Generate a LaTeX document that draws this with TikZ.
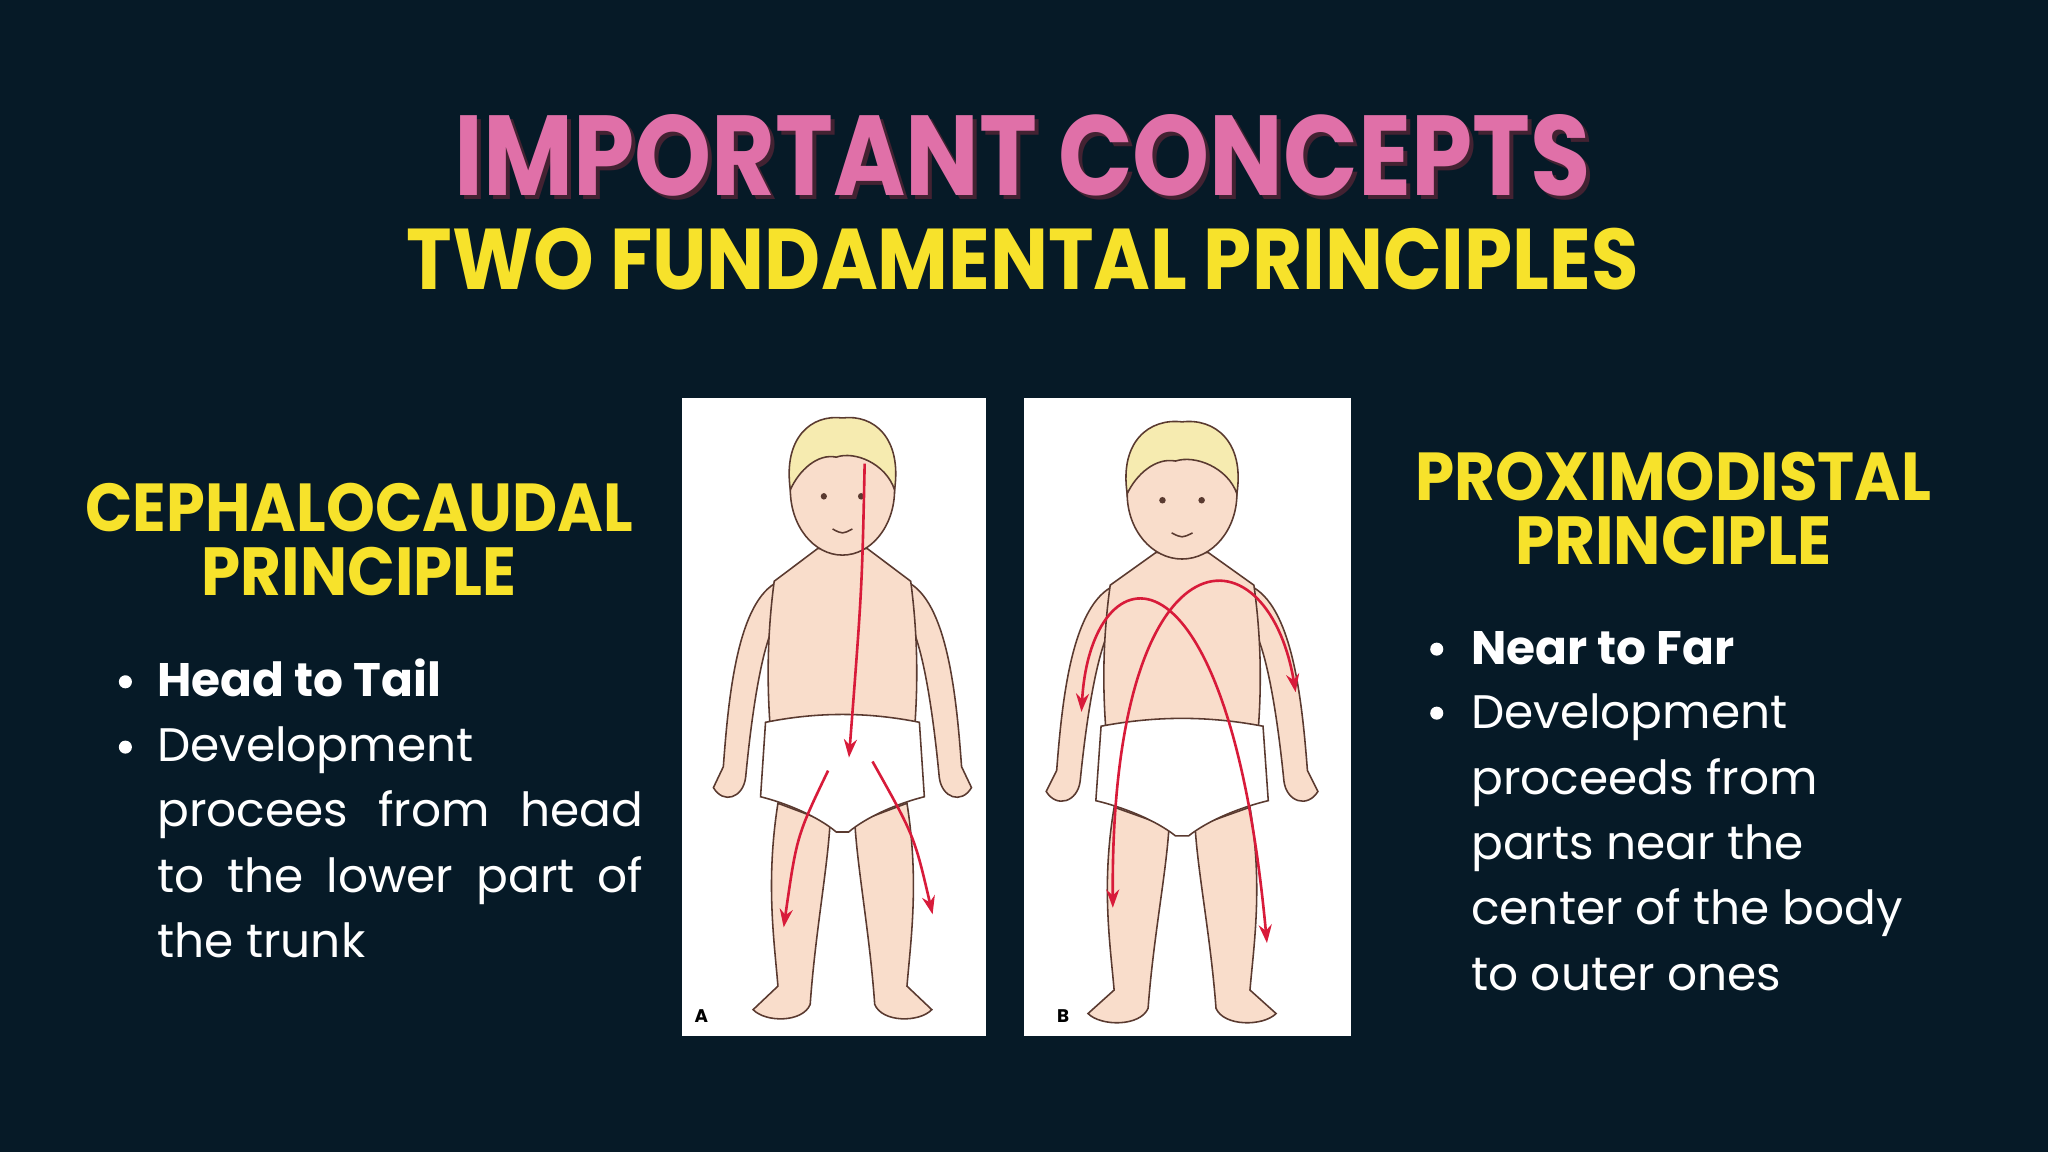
\documentclass[tikz,border=0pt]{standalone}
\usepackage{fontspec}
\setmainfont{Poppins}
\usetikzlibrary{arrows.meta}
\definecolor{bg}{HTML}{061A27}
\definecolor{pinkt}{HTML}{E070A8}
\definecolor{yel}{HTML}{F7E22B}
\definecolor{skin}{HTML}{F9DDCB}
\definecolor{hair}{HTML}{F6EBB0}
\definecolor{ink}{HTML}{5A3A30}
\definecolor{redar}{HTML}{D81B3A}
\tikzset{
 body/.style={font=\fontsize{18}{25}\selectfont, text=white, inner sep=0pt, anchor=base west},
 bul/.style={circle, fill=white, inner sep=0pt, minimum size=5pt},
 outl/.style={draw=ink, line width=0.6pt, fill=skin},
 rarrow/.style={draw=redar, line width=1pt, -{Stealth[length=7pt,width=5pt]}},
 rarrow2/.style={draw=redar, line width=1pt, {Stealth[length=7pt,width=5pt]}-{Stealth[length=7pt,width=5pt]}}
}
\newcommand{\drawbaby}{%
 % legs
 \draw[outl] (-52,240) .. controls (-62,300) and (-55,345) .. (-52,380) -- (-72,398) .. controls (-62,408) and (-32,408) .. (-26,394) .. controls (-22,340) and (-12,290) .. (-10,255) -- cycle;
 \draw[outl] (52,240) .. controls (62,300) and (55,345) .. (52,380) -- (72,398) .. controls (62,408) and (32,408) .. (26,394) .. controls (22,340) and (12,290) .. (10,255) -- cycle;
 % arms
 \draw[outl] (-55,72) .. controls (-85,90) and (-92,160) .. (-96,212) -- (-104,228) .. controls (-96,241) and (-80,236) .. (-78,220) .. controls (-73,170) and (-66,130) .. (-58,110) -- cycle;
 \draw[outl] (55,72) .. controls (85,90) and (92,160) .. (96,212) -- (104,228) .. controls (96,241) and (80,236) .. (78,220) .. controls (73,170) and (66,130) .. (58,110) -- cycle;
 % torso
 \draw[outl] (-20,45) -- (-55,70) .. controls (-62,120) and (-60,160) .. (-58,185) -- (58,185) .. controls (60,160) and (62,120) .. (55,70) -- (20,45) -- cycle;
 % diaper
 \draw[draw=ink, line width=0.6pt, fill=white] (-62,178) .. controls (-20,170) and (20,170) .. (62,178) -- (66,235) .. controls (45,240) and (20,250) .. (5,262) -- (-5,262) .. controls (-20,250) and (-45,240) .. (-66,235) -- cycle;
 % head
 \draw[outl] (0,0) ellipse [x radius=42, y radius=50];
 \draw[draw=ink, line width=0.6pt, fill=hair] (-42,0) .. controls (-48,-40) and (-25,-58) .. (0,-55) .. controls (25,-58) and (48,-40) .. (42,0) .. controls (35,-20) and (10,-30) .. (-5,-25) .. controls (-20,-28) and (-35,-15) .. (-42,0) -- cycle;
 \fill[ink] (-15,5) circle (2.5) (15,5) circle (2.5);
 \draw[ink, line width=0.6pt] (-8,30) .. controls (0,34) .. (8,30);
}
\begin{document}
\begin{tikzpicture}[x=0.5pt,y=-0.5pt]
\fill[bg] (0,0) rectangle (1568,882);
\useasboundingbox (0,0) rectangle (1568,882);
% titles
\node[inner sep=0pt, anchor=base, text=black!70!pinkt] (tsh) at (786,153) {\resizebox{435pt}{31pt}{\bfseries IMPORTANT CONCEPTS}};
\node[inner sep=0pt, anchor=base, text=pinkt] (title) at (783,150) {\resizebox{435pt}{31pt}{\bfseries IMPORTANT CONCEPTS}};
\node[inner sep=0pt, anchor=base, text=yel] (sub) at (783,222) {\resizebox{471.5pt}{23.5pt}{\bfseries TWO FUNDAMENTAL PRINCIPLES}};
% headings
\node[inner sep=0pt, anchor=base, text=yel] (lh1) at (275,407) {\resizebox{209.5pt}{18.5pt}{\bfseries CEPHALOCAUDAL}};
\node[inner sep=0pt, anchor=base, text=yel] (lh2) at (275,456) {\resizebox{120.5pt}{18.5pt}{\bfseries PRINCIPLE}};
\node[inner sep=0pt, anchor=base, text=yel] (rh1) at (1281,383) {\resizebox{197.5pt}{18.5pt}{\bfseries PROXIMODISTAL}};
\node[inner sep=0pt, anchor=base, text=yel] (rh2) at (1281,432) {\resizebox{121pt}{18.5pt}{\bfseries PRINCIPLE}};
% left bullets
\node[bul] (lb1) at (96,522) {};
\node[bul] (lb2) at (96,572) {};
\node[body] (l1) at (120,533) {\bfseries Head to Tail};
\node[body] (l2) at (120,583) {Development};
\node[body] (l3) at (120,633) {\makebox[186pt][s]{procees from head}};
\node[body] (l4) at (120,683) {\makebox[186pt][s]{to the lower part of}};
\node[body] (l5) at (120,733) {the trunk};
% right bullets
\node[bul] (rb1) at (1100,497) {};
\node[bul] (rb2) at (1100,546) {};
\node[body] (r1) at (1126,509) {\bfseries Near to Far};
\node[body] (r2) at (1126,558) {Development};
\node[body] (r3) at (1126,608) {proceeds from};
\node[body] (r4) at (1126,658) {parts near the};
\node[body] (r5) at (1126,708) {center of the body};
\node[body] (r6) at (1126,758) {to outer ones};
% pictures
\fill[white] (522,305) rectangle (755,793);
\fill[white] (784,305) rectangle (1034,793);
\begin{scope}[shift={(645,375)}, xscale=0.95]\drawbaby\end{scope}
\begin{scope}[shift={(905,378)}]\drawbaby\end{scope}
\node[font=\bfseries\fontsize{7}{8}\selectfont, inner sep=0pt] (la) at (537,778) {A};
\node[font=\bfseries\fontsize{7}{8}\selectfont, inner sep=0pt] (lbb) at (814,778) {B};
% arrows A
\coordinate (a0) at (662,355); \coordinate (a1) at (650,580);
\coordinate (a2) at (634,590); \coordinate (a3) at (600,710);
\coordinate (a4) at (668,583); \coordinate (a5) at (714,700);
\draw[rarrow] (a0) .. controls (660,450) .. (a1);
\draw[rarrow] (a2) .. controls (610,640) .. (a3);
\draw[rarrow] (a4) .. controls (700,640) .. (a5);
% arrows B
\coordinate (b0) at (828,545); \coordinate (b1) at (970,722);
\coordinate (b2) at (852,695); \coordinate (b3) at (992,530);
\draw[rarrow2] (b0) .. controls (835,420) and (940,400) .. (b1);
\draw[rarrow2] (b2) .. controls (850,400) and (970,400) .. (b3);
\end{tikzpicture}
\end{document}
